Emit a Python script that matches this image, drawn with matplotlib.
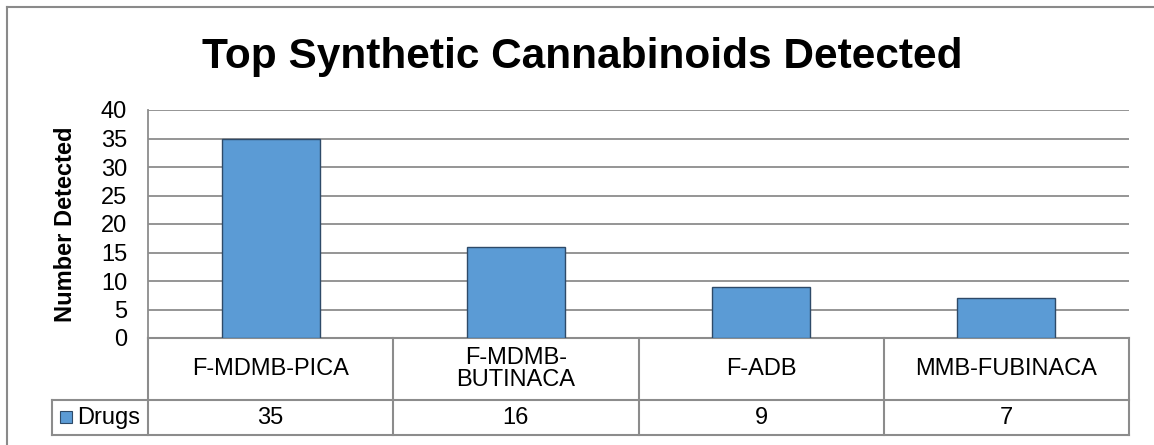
import matplotlib
matplotlib.use("Agg")
import matplotlib.pyplot as plt
from matplotlib.lines import Line2D
from matplotlib.patches import Rectangle
import matplotlib.transforms as mtransforms

categories = ["F-MDMB-PICA", "F-MDMB-\nBUTINACA", "F-ADB", "MMB-FUBINACA"]
values = [35, 16, 9, 7]
series_name = "Drugs"
yticks = [0, 5, 10, 15, 20, 25, 30, 35, 40]
title = "Top Synthetic Cannabinoids Detected"
ylabel = "Number Detected"

plt.rcParams['font.family'] = ['Liberation Sans', 'DejaVu Sans']

W, H = 1154, 445
fig = plt.figure(figsize=(W / 100, H / 100), dpi=100)
fig.patch.set_facecolor("white")

# outer chart border (left and top visible)
fig.add_artist(Line2D([7 / W, 7 / W], [0, 1 - 7 / H], transform=fig.transFigure,
                      color="#8a8a8a", lw=1.5))
fig.add_artist(Line2D([7 / W, 1], [1 - 7 / H, 1 - 7 / H], transform=fig.transFigure,
                      color="#8a8a8a", lw=1.5))

left, right, top, bottom = 148, 1129, 110, 338
ax = fig.add_axes([left / W, (H - bottom) / H, (right - left) / W, (bottom - top) / H])

bar_color = "#5B9BD5"
edge_color = "#2E4A68"
x = list(range(len(categories)))
ax.bar(x, values, width=0.4, color=bar_color, edgecolor=edge_color, linewidth=1.0, zorder=3)

fs = 17
ax.set_xlim(-0.5, len(categories) - 0.5)
ax.set_ylim(0, 40)
ax.set_yticks(yticks)
ax.set_yticklabels([str(t) for t in yticks], fontsize=fs)
ax.tick_params(axis="y", length=0, pad=15)
ax.set_xticks([])
ax.yaxis.grid(True, color="#8c8c8c", lw=1.3, zorder=0)
ax.set_axisbelow(True)
for s in ["top", "right", "bottom"]:
    ax.spines[s].set_visible(False)
ax.spines["left"].set_color("#8c8c8c")
ax.spines["left"].set_linewidth(1.3)

ax.set_ylabel(ylabel, fontsize=fs, fontweight="bold")
ax.yaxis.set_label_coords((66 - left) / (right - left), 0.5)
ax.yaxis.label.set_va("center")

fig.text(582 / W, 1 - 68 / H, title, fontsize=30.5, fontweight="bold",
         ha="center", va="baseline")

# table
trans = mtransforms.blended_transform_factory(ax.transData, ax.transAxes)
ph = bottom - top
y_cat = (bottom - 400) / ph
y_val = (bottom - 435) / ph
px_per_unit = (right - left) / len(categories)
x_leg = -0.5 - (left - 52) / px_per_unit
xr = len(categories) - 0.5
tc = "#8c8c8c"
tlw = 1.5


def tline(xs, ys):
    ax.add_line(Line2D(xs, ys, transform=trans, color=tc, lw=tlw, clip_on=False))


tline([-0.5, xr], [0, 0])
tline([x_leg, xr], [y_cat, y_cat])
tline([x_leg, xr], [y_val, y_val])
tline([x_leg, x_leg], [y_cat, y_val])
for b in [i - 0.5 for i in range(len(categories) + 1)]:
    tline([b, b], [0, y_val])

for i, (c, v) in enumerate(zip(categories, values)):
    ax.text(i, y_cat / 2, c, transform=trans, ha="center", va="center",
            fontsize=fs, linespacing=1.05, clip_on=False)
    ax.text(i, (y_cat + y_val) / 2, str(v), transform=trans, ha="center", va="center",
            fontsize=fs, clip_on=False)

# legend key
fig.add_artist(Rectangle((60 / W, 1 - 423 / H), 12 / W, 12 / H, transform=fig.transFigure,
                         facecolor=bar_color, edgecolor=edge_color, lw=0.8))
fig.text(77 / W, 1 - 418 / H, series_name, fontsize=fs, ha="left", va="center")

fig.savefig("out.png", dpi=100, facecolor="white")
